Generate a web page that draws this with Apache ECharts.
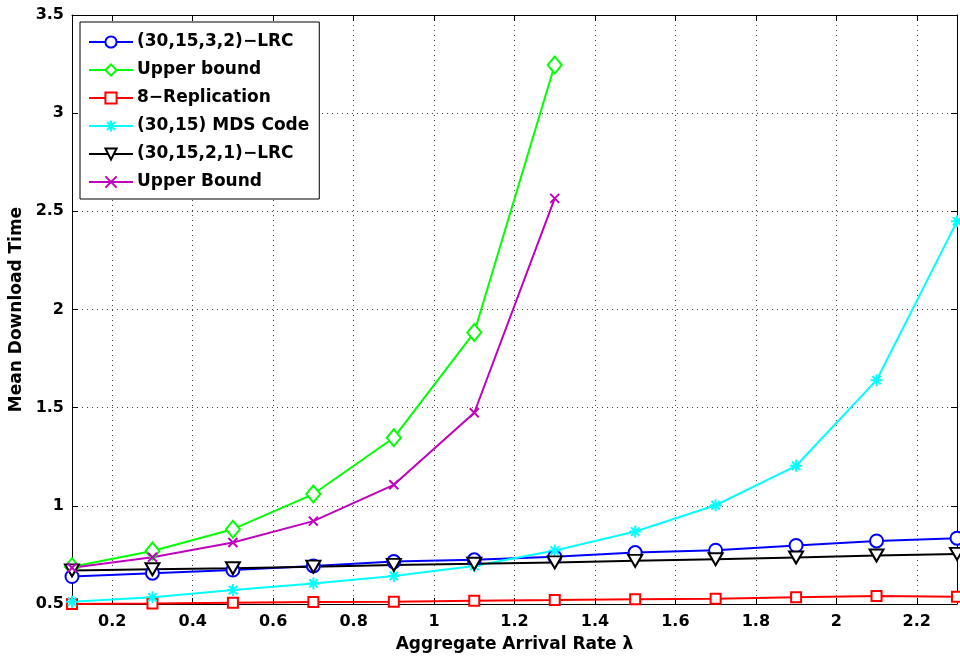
<!DOCTYPE html>
<html>
<head>
<meta charset="utf-8">
<script src="https://cdn.jsdelivr.net/npm/echarts@6/dist/echarts.min.js"></script>
<style>
  html, body { margin: 0; padding: 0; background: #fff; }
  #chart { width: 960px; height: 656px; }
</style>
</head>
<body>
<div id="chart"></div>
<script>
// arrival rates (x) and mean download times
const rates = [0.1, 0.3, 0.5, 0.7, 0.9, 1.1, 1.3, 1.5, 1.7, 1.9, 2.1, 2.3];
const lrc3232 = [0.64, 0.657, 0.673, 0.694, 0.716, 0.725, 0.741, 0.762, 0.774, 0.798, 0.821, 0.835];
const upperGreen = [0.69, 0.77, 0.881, 1.06, 1.347, 1.883, 3.245];
const repl8 = [0.5, 0.502, 0.507, 0.51, 0.512, 0.517, 0.52, 0.524, 0.527, 0.534, 0.541, 0.537];
const mds3015 = [0.512, 0.534, 0.571, 0.605, 0.643, 0.694, 0.772, 0.869, 1.003, 1.204, 1.64, 2.449];
const lrc3221 = [0.671, 0.677, 0.682, 0.69, 0.699, 0.705, 0.712, 0.72, 0.728, 0.737, 0.747, 0.755];
const upperMagenta = [0.685, 0.738, 0.813, 0.922, 1.107, 1.474, 2.566];

const xTicks = [0.2, 0.4, 0.6, 0.8, 1, 1.2, 1.4, 1.6, 1.8, 2, 2.2];

const FONT = '"DejaVu Sans", Arial, sans-serif';
const ASTERISK = 'path://M0,-1L0,1M-1,0L1,0M-0.7,-0.7L0.7,0.7M-0.7,0.7L0.7,-0.7';
const CROSS = 'path://M-1,-1L1,1M-1,1L1,-1';

const pairs = (ys) => ys.map((y, i) => [rates[i], y]);

function mkSeries(name, ys, color, symbol, size, extra) {
  return Object.assign({
    name,
    type: 'line',
    data: pairs(ys),
    symbol,
    symbolSize: size,
    showAllSymbol: true,
    lineStyle: { color, width: 2 },
    itemStyle: { color, borderColor: color, borderWidth: 2 },
    animation: false
  }, extra || {});
}

const chart = echarts.init(document.getElementById('chart'));

const dotted = { show: true, lineStyle: { color: '#444', width: 1, type: [1, 4] } };

chart.setOption({
  backgroundColor: '#fff',
  textStyle: { fontFamily: FONT },
  grid: { left: 72, right: 3, top: 15, bottom: 52, outerBoundsMode: 'none' },
  legend: {
    orient: 'vertical',
    left: 80,
    top: 22,
    backgroundColor: '#fff',
    borderColor: '#000',
    borderWidth: 1,
    padding: [11, 10, 8, 8],
    itemWidth: 44,
    itemHeight: 14,
    itemGap: 10,
    textStyle: { fontFamily: FONT, fontWeight: 'bold', fontSize: 17, color: '#000', lineHeight: 18, padding: [0, 0, 0, -1] },
    data: ['(30,15,3,2)−LRC', 'Upper bound', '8−Replication', '(30,15) MDS Code', '(30,15,2,1)−LRC', 'Upper Bound']
  },
  xAxis: [{
    type: 'value',
    min: 0.1,
    max: 2.3,
    name: 'Aggregate Arrival Rate λ',
    nameLocation: 'middle',
    nameGap: 32,
    nameTextStyle: { fontFamily: FONT, fontWeight: 'bold', fontSize: 17, color: '#000' },
    axisLine: { show: true, lineStyle: { color: '#000', width: 1 } },
    axisTick: { show: true, inside: true, length: 6, customValues: xTicks, lineStyle: { color: '#000' } },
    axisLabel: {
      customValues: xTicks,
      fontFamily: FONT, fontWeight: 'bold', fontSize: 16, color: '#000', margin: 10,
      formatter: (v) => String(+v.toFixed(1))
    },
    splitLine: dotted
  }, {
    type: 'value',
    position: 'top',
    min: 0.1,
    max: 2.3,
    axisLine: { show: true, lineStyle: { color: '#000', width: 1 } },
    axisTick: { show: true, inside: true, length: 6, customValues: xTicks, lineStyle: { color: '#000' } },
    axisLabel: { show: false },
    splitLine: { show: false }
  }],
  yAxis: [{
    type: 'value',
    min: 0.5,
    max: 3.5,
    interval: 0.5,
    name: 'Mean Download Time',
    nameLocation: 'middle',
    nameGap: 44,
    nameTextStyle: { fontFamily: FONT, fontWeight: 'bold', fontSize: 17, color: '#000' },
    axisLine: { show: true, lineStyle: { color: '#000', width: 1 } },
    axisTick: { show: true, inside: true, length: 6, lineStyle: { color: '#000' } },
    axisLabel: { fontFamily: FONT, fontWeight: 'bold', fontSize: 16, color: '#000', margin: 8 },
    splitLine: dotted
  }, {
    type: 'value',
    position: 'right',
    min: 0.5,
    max: 3.5,
    interval: 0.5,
    axisLine: { show: true, lineStyle: { color: '#000', width: 1 } },
    axisTick: { show: true, inside: true, length: 6, lineStyle: { color: '#000' } },
    axisLabel: { show: false },
    splitLine: { show: false }
  }],
  series: [
    mkSeries('(30,15,3,2)−LRC', lrc3232, '#0000ff', 'emptyCircle', 13),
    mkSeries('Upper bound', upperGreen, '#00ff00', 'emptyDiamond', [14, 17]),
    mkSeries('8−Replication', repl8, '#ff0000', 'emptyRect', 10),
    mkSeries('(30,15) MDS Code', mds3015, '#00ffff', ASTERISK, 12),
    mkSeries('(30,15,2,1)−LRC', lrc3221, '#000000', 'emptyTriangle', [14, 12], { symbolRotate: 180 }),
    mkSeries('Upper Bound', upperMagenta, '#bf00bf', CROSS, 9)
  ]
});
</script>
</body>
</html>
